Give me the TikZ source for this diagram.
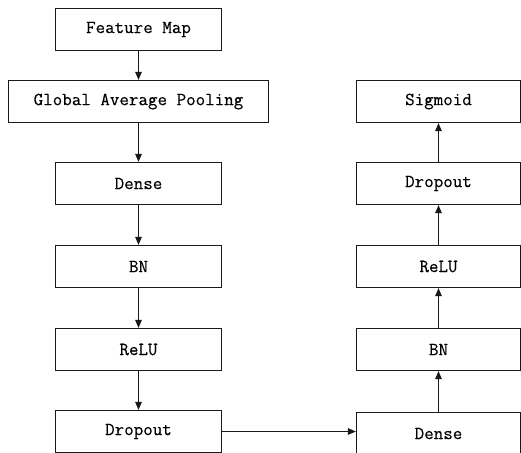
\documentclass[tikz,border=0pt]{standalone}
\usepackage{fontspec}
\usetikzlibrary{arrows.meta}
% a slightly heavier monospaced face for the block labels
\newfontfamily\blockfont{Latin Modern Mono}[FakeBold=0.35]
\begin{document}
\begin{tikzpicture}[x=1pt,y=-1pt,
  blk/.style={draw=black!90,line width=1.2pt,minimum width=166pt,minimum height=42pt,
    inner sep=0pt,font=\blockfont\fontsize{18.5}{20}\selectfont},
  link/.style={draw=black!90,line width=1.2pt,-{Triangle[length=8pt,width=6.5pt]}}]
\useasboundingbox (0,0) rectangle (521,452);
\clip (0,0) rectangle (521,452);
\fill[white] (0,0) rectangle (521,452);
% left column: top to bottom
\node[blk] (fm)  at (138.5,29.5)  {Feature Map};
\node[blk,minimum width=260pt] (gap) at (138.5,101.5) {Global Average Pooling};
\node[blk] (d1)  at (138.5,183.5) {Dense};
\node[blk] (bn1) at (138.5,266.5) {BN};
\node[blk] (r1)  at (138.5,349.5) {ReLU};
\node[blk] (do1) at (138.5,431.5) {Dropout};
% right column: bottom to top
\node[blk,minimum width=164pt] (d2)  at (438.5,433.5) {Dense};
\node[blk,minimum width=164pt] (bn2) at (438.5,349.5) {BN};
\node[blk,minimum width=164pt] (r2)  at (438.5,266.5) {ReLU};
\node[blk,minimum width=164pt] (do2) at (438.5,183.5) {Dropout};
\node[blk,minimum width=164pt] (sg)  at (438.5,101.5) {Sigmoid};
% connectors
\draw[link] (fm) -- (gap);
\draw[link] (gap) -- (d1);
\draw[link] (d1) -- (bn1);
\draw[link] (bn1) -- (r1);
\draw[link] (r1) -- (do1);
\draw[link] (do1.east) -- (d2.west |- do1.east);
\draw[link] (d2) -- (bn2);
\draw[link] (bn2) -- (r2);
\draw[link] (r2) -- (do2);
\draw[link] (do2) -- (sg);
\end{tikzpicture}
\end{document}
